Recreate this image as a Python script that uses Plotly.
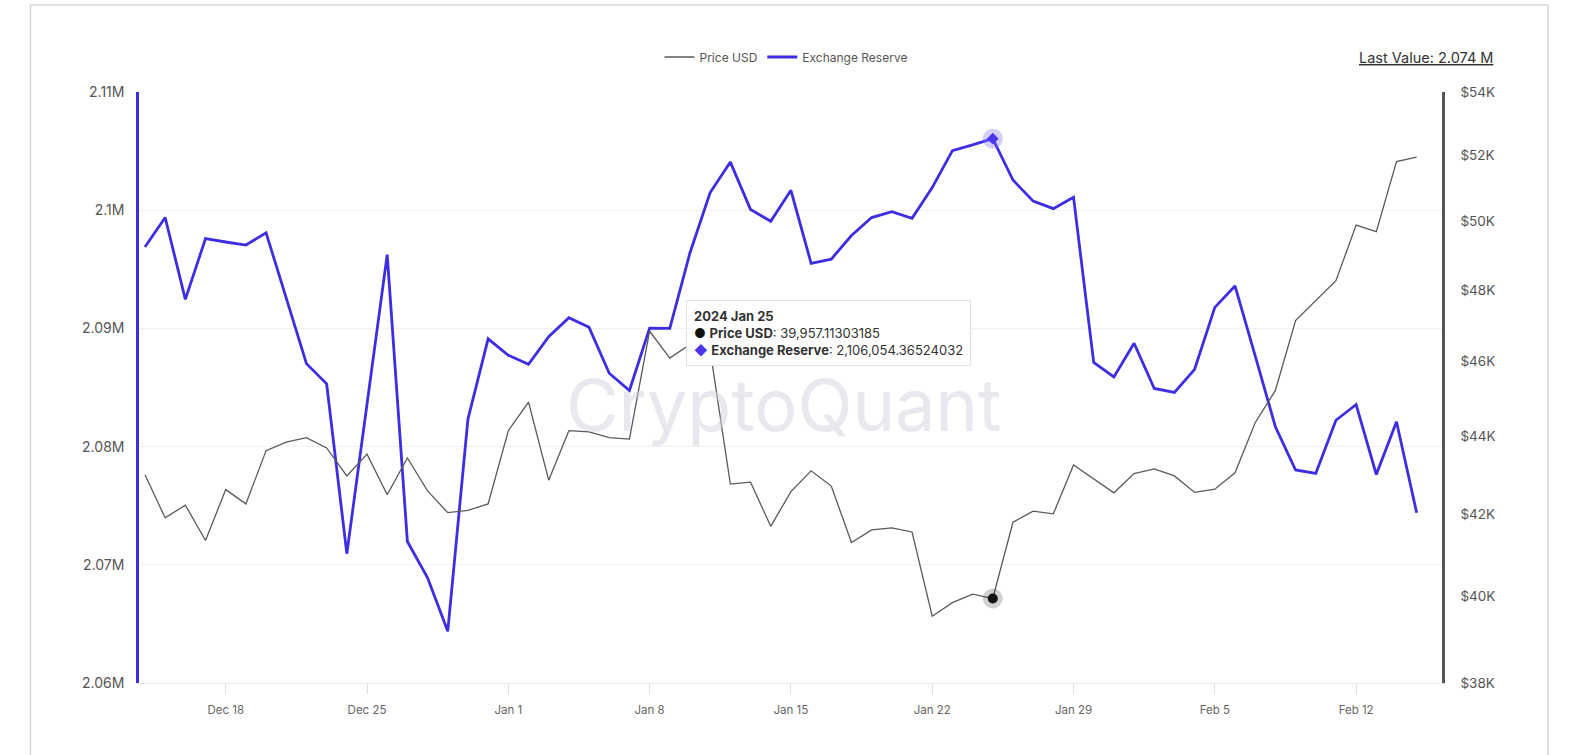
import plotly.graph_objects as go
import pandas as pd

# ---------------- data ----------------
start_date = "2023-12-14"
n_days = 64
dates = list(pd.date_range(start_date, periods=n_days, freq="D"))

price_usd = [43010, 41920, 42240, 41360, 42630, 42270, 43630, 43850, 43970, 43700,
             42980, 43540, 42500, 43440, 42600, 42050, 42110, 42270, 44150, 44910,
             42870, 44150, 44120, 43970, 43930, 46840, 46100, 46470, 46310, 42770,
             42820, 41710, 42580, 43110, 42720, 41310, 41620, 41670, 41570, 39540,
             39860, 40060, 39957.11303185, 41810, 42090, 42020, 43260, 42900, 42550, 43040,
             43160, 42980, 42560, 42640, 43060, 44360, 45220, 47140, 47700, 48270,
             49890, 49700, 51810, 51950]

exchange_reserve = [2096890, 2099380, 2092460, 2097600, 2097310, 2097050, 2098090, 2092550, 2087020, 2085310,
                    2070940, 2083590, 2096240, 2071970, 2068900, 2064370, 2082330, 2089120, 2087730, 2086960,
                    2089290, 2090900, 2090090, 2086210, 2084750, 2090030, 2090000, 2096400, 2101490, 2104070,
                    2100060, 2099060, 2101680, 2095500, 2095860, 2097860, 2099380, 2099870, 2099320, 2101910,
                    2105040, 2105530, 2106054.36524032, 2102550, 2100770, 2100130, 2101100, 2087120, 2085890, 2088740,
                    2084920, 2084590, 2086540, 2091780, 2093590, 2087670, 2081680, 2078020, 2077730, 2082230,
                    2083560, 2077640, 2082100, 2074400]

hover_index = 42

x_tick_dates = ["2023-12-18", "2023-12-25", "2024-01-01", "2024-01-08", "2024-01-15",
                "2024-01-22", "2024-01-29", "2024-02-05", "2024-02-12"]
x_tick_labels = ["Dec 18", "Dec 25", "Jan 1", "Jan 8", "Jan 15", "Jan 22", "Jan 29", "Feb 5", "Feb 12"]

left_tick_vals = [2060000, 2070000, 2080000, 2090000, 2100000, 2110000]
left_tick_labels = ["2.06M", "2.07M", "2.08M", "2.09M", "2.1M", "2.11M"]

right_tick_vals = [38000, 40000, 42000, 44000, 46000, 48000, 50000, 52000, 54000]
right_tick_labels = ["$38K", "$40K", "$42K", "$44K", "$46K", "$48K", "$50K", "$52K", "$54K"]

# ---------------- styling ----------------
FONT = "Inter, Roboto, Noto Sans, sans-serif"
BLUE = "#3d2de3"
W, H = 1592, 755
L, R, T, B = 139, 150, 92, 72
PW, PH = W - L - R, H - T - B


def px_to_paper_x(px):
    return (px - L) / PW


def px_to_paper_y(py):
    return (H - B - py) / PH


fig = go.Figure()

fig.add_trace(go.Scatter(
    x=dates, y=price_usd, name="Price USD", mode="lines",
    line=dict(color="#5a5a5a", width=1.3), yaxis="y2",
))
fig.add_trace(go.Scatter(
    x=dates, y=exchange_reserve, name="Exchange Reserve", mode="lines",
    line=dict(color=BLUE, width=2.8), yaxis="y",
))

# hover highlight markers
hx = dates[hover_index]
fig.add_trace(go.Scatter(x=[hx], y=[exchange_reserve[hover_index]], mode="markers", yaxis="y",
                         marker=dict(symbol="circle", size=20, color="rgba(130,115,240,0.35)"),
                         showlegend=False, hoverinfo="skip"))
fig.add_trace(go.Scatter(x=[hx], y=[exchange_reserve[hover_index]], mode="markers", yaxis="y",
                         marker=dict(symbol="diamond", size=9, color="#4a36ef"),
                         showlegend=False, hoverinfo="skip"))
fig.add_trace(go.Scatter(x=[hx], y=[price_usd[hover_index]], mode="markers", yaxis="y2",
                         marker=dict(symbol="circle", size=20, color="rgba(0,0,0,0.18)"),
                         showlegend=False, hoverinfo="skip"))
fig.add_trace(go.Scatter(x=[hx], y=[price_usd[hover_index]], mode="markers", yaxis="y2",
                         marker=dict(symbol="circle", size=10, color="#111111"),
                         showlegend=False, hoverinfo="skip"))

x_start = pd.Timestamp(start_date) - pd.Timedelta(hours=7.1)
x_end = dates[-1] + pd.Timedelta(hours=30.1)

tooltip = (f"<b>{hx.strftime('%Y %b')} {hx.day}</b><br>"
           f"<span style='color:#111'>●</span> <b>Price USD</b>: {price_usd[hover_index]:,.8f}<br>"
           f"<span style='color:#4a36ef'>◆</span> <b>Exchange Reserve</b>: {exchange_reserve[hover_index]:,.8f}")

fig.update_layout(
    width=W, height=H,
    margin=dict(l=L, r=R, t=T, b=B),
    paper_bgcolor="white", plot_bgcolor="white",
    font=dict(family=FONT, color="#666666", size=12),
    showlegend=True,
    hovermode=False,
    legend=dict(orientation="h", x=px_to_paper_x(786), xanchor="center",
                y=px_to_paper_y(57), yanchor="middle",
                font=dict(size=12, color="#555555"), itemwidth=30,
                bgcolor="rgba(0,0,0,0)"),
    xaxis=dict(type="date", range=[x_start, x_end],
               tickvals=x_tick_dates, ticktext=x_tick_labels,
               showgrid=False, zeroline=False,
               showline=True, linecolor="#e6e6e6", linewidth=1,
               ticks="outside", ticklen=10, tickcolor="#e0e0e0", tickwidth=1,
               tickfont=dict(size=11.5, color="#666666"), ticklabelstandoff=6),
    yaxis=dict(range=[2060000, 2110000], tickvals=left_tick_vals, ticktext=left_tick_labels,
               showgrid=True, gridcolor="#f1f1f1", gridwidth=1, zeroline=False,
               showline=True, linecolor=BLUE, linewidth=2.5,
               ticks="", tickfont=dict(size=14, color="#555555"), ticklabelstandoff=9),
    yaxis2=dict(type="log", range=[4.5797836, 4.7323938], overlaying="y", side="right",
                tickvals=right_tick_vals, ticktext=right_tick_labels,
                showgrid=False, zeroline=False,
                showline=True, linecolor="#555555", linewidth=2.5,
                ticks="", tickfont=dict(size=13.5, color="#555555"), ticklabelstandoff=13),
    shapes=[dict(type="rect", xref="paper", yref="paper",
                 x0=px_to_paper_x(30.5), x1=px_to_paper_x(1548),
                 y0=px_to_paper_y(775), y1=px_to_paper_y(5),
                 line=dict(color="#d8d8d8", width=1.5), fillcolor="rgba(0,0,0,0)", layer="below")],
    annotations=[
        dict(text="CryptoQuant", xref="paper", yref="paper",
             x=px_to_paper_x(784), y=px_to_paper_y(404), xanchor="center", yanchor="middle",
             showarrow=False, font=dict(size=72, color="rgba(210,210,224,0.5)", family=FONT)),
        dict(text=f"<u>Last Value: {exchange_reserve[-1] / 1e6:.3f} M</u>", xref="paper", yref="paper",
             x=px_to_paper_x(1495), y=px_to_paper_y(58), xanchor="right", yanchor="middle",
             showarrow=False, font=dict(size=14.5, color="#333333", family=FONT)),
        dict(text=tooltip, xref="paper", yref="paper",
             x=px_to_paper_x(686), y=px_to_paper_y(300), xanchor="left", yanchor="top",
             showarrow=False, align="left", bgcolor="white", bordercolor="#e2e2e2",
             borderwidth=1, borderpad=7, font=dict(size=13, color="#333333", family=FONT)),
    ],
)

fig.write_html("out.html", config={"displayModeBar": False},
               post_script="document.body.style.margin='0';")
